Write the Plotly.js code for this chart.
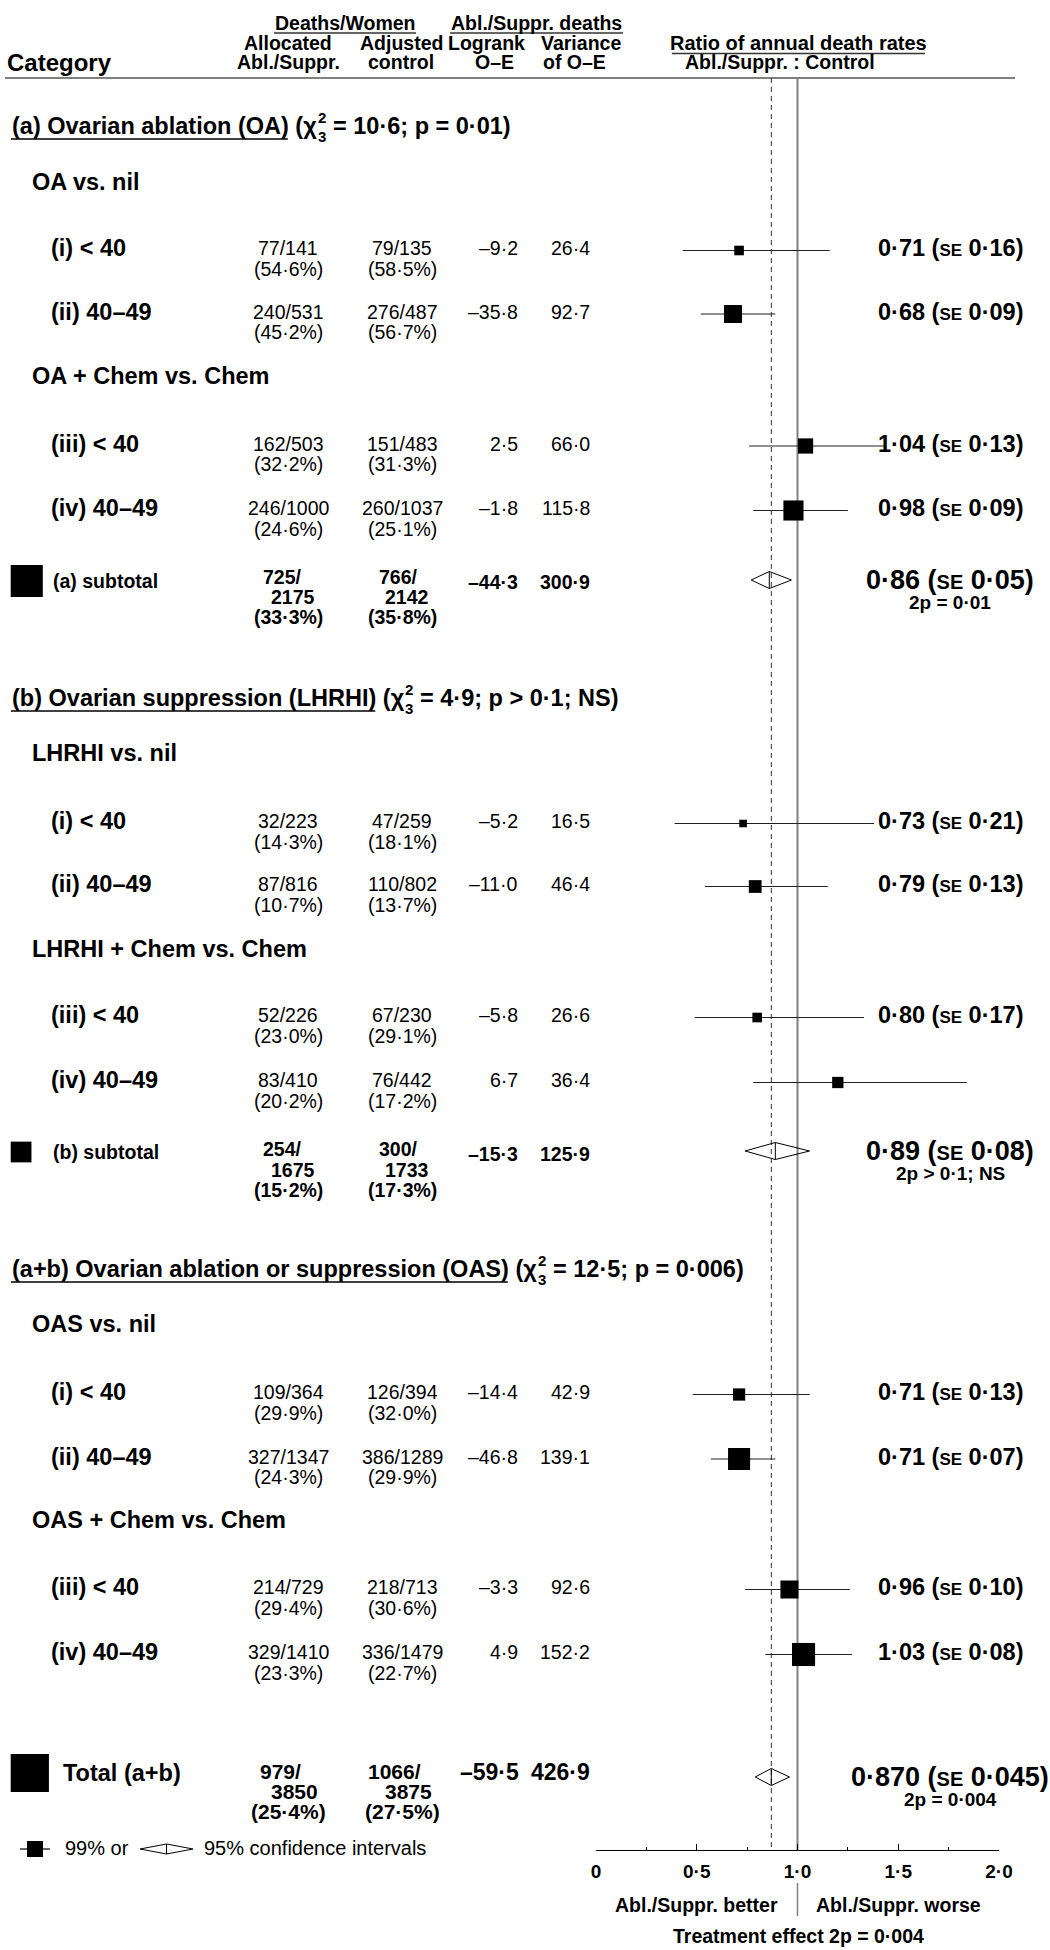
<!DOCTYPE html>
<html><head><meta charset="utf-8">
<script src="https://cdn.plot.ly/plotly-3.0.1.min.js"></script>
<style>body{margin:0;background:#fff}#chart{width:1050px;height:1950px}</style>
</head><body><div id="chart"></div>
<script>
// ---------------- DATA ----------------
const sectionTitles = ['(a) Ovarian ablation (OA)', '(b) Ovarian suppression (LHRHI)', '(a+b) Ovarian ablation or suppression (OAS)'];
const sectionChiSq = [10.6, 4.9, 12.5];
const sectionDf = [3, 3, 3];
const sectionP = ['p = 0·01', 'p > 0·1; NS', 'p = 0·006'];
const comparisons = ['OA vs. nil', 'OA + Chem vs. Chem', 'LHRHI vs. nil', 'LHRHI + Chem vs. Chem', 'OAS vs. nil', 'OAS + Chem vs. Chem'];
const rowLabels = ['(i) < 40', '(ii) 40–49', '(iii) < 40', '(iv) 40–49',
                   '(i) < 40', '(ii) 40–49', '(iii) < 40', '(iv) 40–49',
                   '(i) < 40', '(ii) 40–49', '(iii) < 40', '(iv) 40–49'];
const allocDeaths = [77, 240, 162, 246, 32, 87, 52, 83, 109, 327, 214, 329];
const allocWomen  = [141, 531, 503, 1000, 223, 816, 226, 410, 364, 1347, 729, 1410];
const allocPct    = [54.6, 45.2, 32.2, 24.6, 14.3, 10.7, 23.0, 20.2, 29.9, 24.3, 29.4, 23.3];
const ctrlDeaths  = [79, 276, 151, 260, 47, 110, 67, 76, 126, 386, 218, 336];
const ctrlWomen   = [135, 487, 483, 1037, 259, 802, 230, 442, 394, 1289, 713, 1479];
const ctrlPct     = [58.5, 56.7, 31.3, 25.1, 18.1, 13.7, 29.1, 17.2, 32.0, 29.9, 30.6, 22.7];
const oMinusE     = [-9.2, -35.8, 2.5, -1.8, -5.2, -11.0, -5.8, 6.7, -14.4, -46.8, -3.3, 4.9];
const varianceOE  = [26.4, 92.7, 66.0, 115.8, 16.5, 46.4, 26.6, 36.4, 42.9, 139.1, 92.6, 152.2];
const ratio       = [0.71, 0.68, 1.04, 0.98, 0.73, 0.79, 0.80, 1.20, 0.71, 0.71, 0.96, 1.03];
const ratioSE     = [0.16, 0.09, 0.13, 0.09, 0.21, 0.13, 0.17, null, 0.13, 0.07, 0.10, 0.08];
const ci99Low     = [0.43, 0.52, 0.76, 0.78, 0.39, 0.54, 0.49, 0.78, 0.48, 0.57, 0.74, 0.84];
const ci99High    = [1.16, 0.89, 1.43, 1.25, 1.38, 1.15, 1.33, 1.84, 1.06, 0.89, 1.26, 1.27];

const subLabels      = ['(a) subtotal', '(b) subtotal', 'Total (a+b)'];
const subAllocDeaths = [725, 254, 979];
const subAllocWomen  = [2175, 1675, 3850];
const subAllocPct    = [33.3, 15.2, 25.4];
const subCtrlDeaths  = [766, 300, 1066];
const subCtrlWomen   = [2142, 1733, 3875];
const subCtrlPct     = [35.8, 17.3, 27.5];
const subOE          = [-44.3, -15.3, -59.5];
const subVar         = [300.9, 125.9, 426.9];
const subRatio       = [0.86, 0.89, 0.870];
const subRatioText   = ['0·86', '0·89', '0·870'];
const subSEText      = ['0·05', '0·08', '0·045'];
const subCi95Low     = [0.77, 0.74, 0.79];
const subCi95High    = [0.97, 1.06, 0.96];
const subPText       = ['2p = 0·01', '2p > 0·1; NS', '2p = 0·004'];

const axisTickVals   = [0, 0.5, 1, 1.5, 2];
const axisTickLabels = ['0', '0·5', '1·0', '1·5', '2·0'];

// ---------------- LAYOUT CONSTANTS (pixels) ----------------
const FONT = 'Liberation Sans, Arial, Helvetica, sans-serif';
const sectionY = [126, 698, 1269];
const compY = [182, 376, 753, 948.5, 1324, 1520];
const rowY = [248, 311.5, 443.5, 508, 821, 884, 1015, 1080, 1392, 1456.5, 1587, 1652];
const subY = [581, 1152, 1773];
const subNumY = [[577, 597, 617], [1149, 1170, 1190], [1771, 1791, 1811]];
const subResY = [580, 1151, 1777];
const AXIS_Y = 1850, TOP_Y = 78;

const esc = s => String(s).replace(/</g, '&lt;').replace(/>/g, '&gt;');
const dot = s => String(s).replace('.', '·');
const fmt1 = v => (v < 0 ? '–' : '') + dot(Math.abs(v).toFixed(1));
const measureCtx = document.createElement('canvas').getContext('2d');
function textWidth(s, size, bold) {
  measureCtx.font = (bold ? 'bold ' : '') + size + 'px "Liberation Sans", Arial, sans-serif';
  return measureCtx.measureText(s).width;
}

const ann = [];
function txt(x, y, text, size, opts) {
  ann.push(Object.assign({
    x: x, y: y, xref: 'x', yref: 'y', text: text, showarrow: false,
    font: {family: FONT, size: size, color: '#000'},
    xanchor: 'center', yanchor: 'middle', borderpad: 0
  }, opts || {}));
}
const shapes = [];
function hline(x0, x1, y, color, w) {
  shapes.push({type: 'line', xref: 'x', yref: 'y', x0: x0, x1: x1, y0: y, y1: y, line: {color: color, width: w}, layer: 'below'});
}

// Header
txt(345, 23, '<b>Deaths/Women</b>', 19.5);
txt(536, 23, '<b>Abl./Suppr. deaths</b>', 19.5);
hline(274, 416, 33, '#333', 1.3);
hline(450, 623, 33, '#333', 1.3);
txt(288, 43, '<b>Allocated</b>', 19.5);
txt(401, 43, '<b>Adjusted</b>', 19.5);
txt(486, 43, '<b>Logrank</b>', 19.5);
txt(581, 43, '<b>Variance</b>', 19.5);
txt(6, 62, '<b>Category</b>', 24, {xanchor: 'left'});
txt(288, 62, '<b>Abl./Suppr.</b>', 19.5);
txt(401, 62, '<b>control</b>', 19.5);
txt(494, 62, '<b>O–E</b>', 19.5);
txt(574, 62, '<b>of O–E</b>', 19.5);
txt(798.5, 43, '<b>Ratio of annual death rates</b>', 20);
hline(672, 925, 53.5, '#333', 1.3);
txt(780, 62, '<b>Abl./Suppr. : Control</b>', 19.5);
hline(5, 1015, TOP_Y, '#808080', 2);

// Sections (chi-square with stacked super/subscript)
const HS = 23.5, X0 = 11;
for (let k = 0; k < 3; k++) {
  const y = sectionY[k];
  const partA = sectionTitles[k] + ' (χ';
  const wTitle = textWidth(sectionTitles[k], HS, true);
  const wA = textWidth(partA, HS, true);
  txt(X0, y, '<b>' + esc(partA) + '</b>', HS, {xanchor: 'left'});
  txt(X0 + wA + 1, y - 9, '<b>2</b>', 15, {xanchor: 'left'});
  txt(X0 + wA + 1, y + 10, '<b>' + sectionDf[k] + '</b>', 15, {xanchor: 'left'});
  const partB = '= ' + dot(sectionChiSq[k].toFixed(1)) + '; ' + sectionP[k] + ')';
  txt(X0 + wA + 16, y, '<b>' + esc(partB) + '</b>', HS, {xanchor: 'left'});
  hline(X0, X0 + wTitle, y + 13, '#000', 1.3);
}
comparisons.forEach((c, m) => txt(31, compY[m], '<b>' + esc(c) + '</b>', 23.5, {xanchor: 'left'}));

// Rows
for (let i = 0; i < rowLabels.length; i++) {
  const y = rowY[i];
  txt(50, y, '<b>' + esc(rowLabels[i]) + '</b>', 23.5, {xanchor: 'left'});
  txt(288, y, allocDeaths[i] + '/' + allocWomen[i], 19.5);
  txt(288, y + 20.5, '(' + dot(allocPct[i].toFixed(1)) + '%)', 19.5);
  txt(402, y, ctrlDeaths[i] + '/' + ctrlWomen[i], 19.5);
  txt(402, y + 20.5, '(' + dot(ctrlPct[i].toFixed(1)) + '%)', 19.5);
  txt(519, y, fmt1(oMinusE[i]), 19.5, {xanchor: 'right'});
  txt(591, y, fmt1(varianceOE[i]), 19.5, {xanchor: 'right'});
  if (ratioSE[i] !== null) {
    txt(950, y, '<b>' + dot(ratio[i].toFixed(2)) + ' (<span style="font-size:17px">SE</span> ' + dot(ratioSE[i].toFixed(2)) + ')</b>', 23.5);
  }
}

// Subtotals
for (let j = 0; j < 3; j++) {
  const big = j === 2;
  const ns = big ? 21 : 19.5;
  const ly = subNumY[j];
  if (big) txt(62, subY[j], '<b>' + esc(subLabels[j]) + '</b>', 23.5, {xanchor: 'left'});
  else txt(52, subY[j], '<b>' + esc(subLabels[j]) + '</b>', 19.5, {xanchor: 'left'});
  txt(big ? 259 : 262, ly[0], '<b>' + subAllocDeaths[j] + '/</b>', ns, {xanchor: 'left'});
  txt(big ? 319 : 316, ly[1], '<b>' + subAllocWomen[j] + '</b>', ns, {xanchor: 'right'});
  txt(288, ly[2], '<b>(' + dot(subAllocPct[j].toFixed(1)) + '%)</b>', ns);
  txt(big ? 367 : 378, ly[0], '<b>' + subCtrlDeaths[j] + '/</b>', ns, {xanchor: 'left'});
  txt(big ? 433 : 429.5, ly[1], '<b>' + subCtrlWomen[j] + '</b>', ns, {xanchor: 'right'});
  txt(402, ly[2], '<b>(' + dot(subCtrlPct[j].toFixed(1)) + '%)</b>', ns);
  txt(big ? 520 : 519, ly[0] + (big ? 1 : 5), '<b>' + fmt1(subOE[j]) + '</b>', big ? 23 : 19.5, {xanchor: 'right'});
  txt(591, ly[0] + (big ? 1 : 5), '<b>' + fmt1(subVar[j]) + '</b>', big ? 23 : 19.5, {xanchor: 'right'});
  txt(950, subResY[j], '<b>' + subRatioText[j] + ' (<span style="font-size:20px">SE</span> ' + subSEText[j] + ')</b>', 27);
  txt(950, subResY[j] + 22, '<b>' + esc(subPText[j]) + '</b>', 19);
}

// Legend and axis captions
txt(64, 1848, '99% or', 20, {xanchor: 'left'});
txt(203, 1848, '95% confidence intervals', 20, {xanchor: 'left'});
shapes.push({type: 'line', xref: 'x', yref: 'y', x0: 20, x1: 50, y0: 1849, y1: 1849, line: {color: '#000', width: 1.2}});
shapes.push({type: 'rect', xref: 'x', yref: 'y', x0: 27, x1: 43, y0: 1841, y1: 1857, fillcolor: '#000', line: {width: 0}});
shapes.push({type: 'path', xref: 'x', yref: 'y', path: 'M140,1849 L166.5,1844 L193,1849 L166.5,1854 Z', line: {color: '#000', width: 1}});
shapes.push({type: 'line', xref: 'x', yref: 'y', x0: 166.5, x1: 166.5, y0: 1844, y1: 1854, line: {color: '#000', width: 1}});

txt(779, 1905, '<b>Abl./Suppr. better</b>', 19.5, {xanchor: 'right'});
txt(815, 1905, '<b>Abl./Suppr. worse</b>', 19.5, {xanchor: 'left'});
txt(798, 1936, '<b>Treatment effect ' + esc(subPText[2]) + '</b>', 19.5);

// Reference lines on the ratio axis
shapes.push({type: 'line', xref: 'x2', yref: 'y', x0: subRatio[2], x1: subRatio[2], y0: TOP_Y, y1: AXIS_Y, line: {color: '#333', width: 1, dash: '5px,4px'}, layer: 'below'});
shapes.push({type: 'line', xref: 'x2', yref: 'y', x0: 1, x1: 1, y0: TOP_Y, y1: AXIS_Y, line: {color: '#808080', width: 2}, layer: 'below'});
shapes.push({type: 'line', xref: 'x2', yref: 'y', x0: 1, x1: 1, y0: 1883, y1: 1916, line: {color: '#808080', width: 1.5}, layer: 'below'});

// ---------------- TRACES ----------------
const markY = rowY.map(y => y + 2.5);
const traces = [];
traces.push({
  type: 'scatter', mode: 'markers', xaxis: 'x2', yaxis: 'y',
  x: ratio, y: markY,
  marker: {symbol: 'square', color: '#000', opacity: 1, size: varianceOE.map(v => 1.87 * Math.sqrt(v)), line: {width: 0}},
  error_x: {type: 'data', symmetric: false,
    array: ci99High.map((h, i) => h - ratio[i]),
    arrayminus: ci99Low.map((l, i) => ratio[i] - l),
    width: 0, thickness: 1.2, color: '#222'},
  hoverinfo: 'skip', showlegend: false
});
const dX = [], dY = [], vX = [], vY = [];
const DH = 8.5;
for (let j = 0; j < 3; j++) {
  const y = subResY[j];
  dX.push(subCi95Low[j], subRatio[j], subCi95High[j], subRatio[j], subCi95Low[j], null);
  dY.push(y, y - DH, y, y + DH, y, null);
  vX.push(subRatio[j], subRatio[j], null);
  vY.push(y - DH, y + DH, null);
}
traces.push({type: 'scatter', mode: 'lines', xaxis: 'x2', yaxis: 'y', x: dX, y: dY,
  line: {color: '#000', width: 1}, hoverinfo: 'skip', showlegend: false});
traces.push({type: 'scatter', mode: 'lines', xaxis: 'x2', yaxis: 'y', x: vX, y: vY,
  line: {color: '#000', width: 1}, hoverinfo: 'skip', showlegend: false});
const subSq = subVar.map(v => 1.85 * Math.sqrt(v));
traces.push({type: 'scatter', mode: 'markers', xaxis: 'x', yaxis: 'y',
  x: subSq.map(s => 10.7 + s / 2), y: subY,
  marker: {symbol: 'square', color: '#000', opacity: 1, size: subSq, line: {width: 0}},
  hoverinfo: 'skip', showlegend: false});

const layout = {
  width: 1050, height: 1950,
  margin: {l: 0, r: 0, t: 0, b: 0, pad: 0},
  paper_bgcolor: '#fff', plot_bgcolor: 'rgba(0,0,0,0)',
  showlegend: false,
  xaxis: {domain: [0, 1], range: [0, 1050], visible: false, fixedrange: true},
  yaxis: {domain: [0, 1], range: [1950, 0], visible: false, fixedrange: true},
  xaxis2: {
    domain: [596 / 1050, 999 / 1050], range: [0, 2], anchor: 'free', position: (1950 - AXIS_Y) / 1950,
    showline: true, linecolor: '#000', linewidth: 1.2,
    ticks: 'inside', ticklen: 6, tickwidth: 1.2, tickcolor: '#000',
    tickmode: 'array', tickvals: axisTickVals, ticktext: axisTickLabels.map(s => '<b>' + s + '</b>'),
    tickfont: {family: FONT, size: 19, color: '#000'},
    minor: {tickmode: 'linear', tick0: 0, dtick: 0.25, ticks: 'inside', ticklen: 3, tickwidth: 1, tickcolor: '#000', showgrid: false},
    showgrid: false, zeroline: false, fixedrange: true, ticklabelstandoff: 4
  },
  annotations: ann,
  shapes: shapes
};
Plotly.newPlot('chart', traces, layout, {displayModeBar: false, staticPlot: true});
</script></body></html>
